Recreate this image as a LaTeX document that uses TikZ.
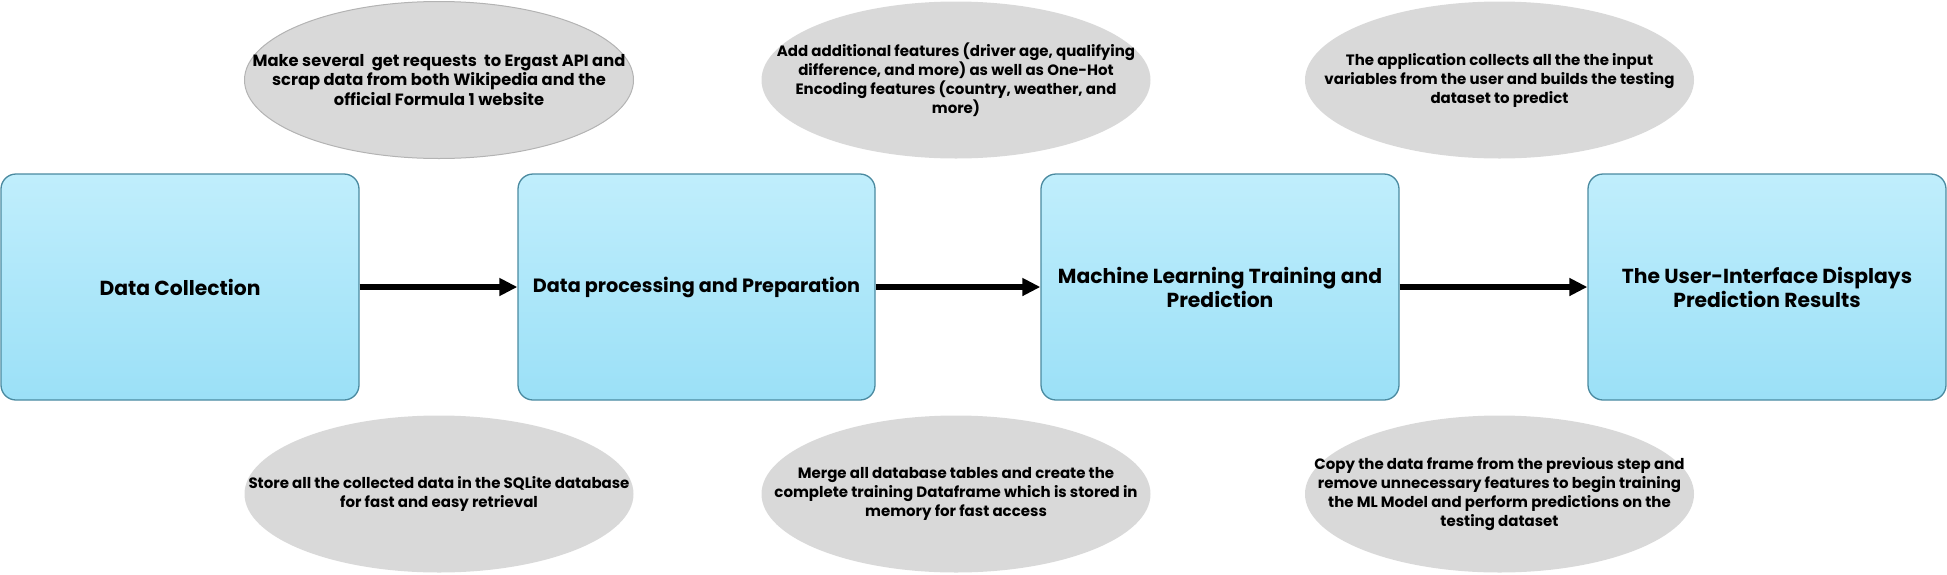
\documentclass[tikz,border=0pt]{standalone}
\usepackage{fontspec}
\setmainfont{Poppins}
\usetikzlibrary{shapes.geometric,arrows.meta}
\definecolor{boxtop}{HTML}{C0EEFC}
\definecolor{boxbot}{HTML}{9BE0F7}
\definecolor{boxline}{HTML}{4A8AA0}
\definecolor{ellfill}{HTML}{D9D9D9}
\definecolor{ellline}{HTML}{B3B3B3}
\tikzset{
  stepbox/.style={rectangle, rounded corners=15pt, draw=boxline, line width=1.3pt,
    top color=boxtop, bottom color=boxbot, minimum height=226pt, inner sep=6pt,
    align=center, font=\fontsize{20.3}{24}\selectfont\bfseries, text=black},
  note/.style={ellipse, fill=ellfill, minimum width=389pt, minimum height=157pt, inner sep=0pt},
  notetext/.style={align=center, inner sep=0pt, font=\fontsize{15}{19}\selectfont\bfseries, text=black},
  flow/.style={line width=6pt, -{Triangle[length=18pt,width=17pt]}}
}
\begin{document}
\begin{tikzpicture}[x=1pt,y=-1pt]
\useasboundingbox (0,0) rectangle (1947,574);
\node[stepbox, minimum width=358pt] (b1) at (180,287) {Data Collection};
\node[stepbox, minimum width=357pt, font=\fontsize{19.2}{24}\selectfont\bfseries] (b2) at (696.5,287) {Data processing and Preparation};
\node[stepbox, minimum width=358pt] (b3) at (1220,287) {Machine Learning Training and\\Prediction};
\node[stepbox, minimum width=358pt] (b4) at (1767,287) {The User-Interface Displays\\Prediction Results};
\node[note, draw=ellline, line width=1pt] (t1) at (439,80) {};
\node[note] (u1) at (439,494) {};
\node[note] (t2) at (956,80) {};
\node[note] (u2) at (956,494) {};
\node[note] (t3) at (1499.5,80) {};
\node[note] (u3) at (1499.5,494) {};
\node[notetext, font=\fontsize{16.3}{19.5}\selectfont\bfseries] (t1x) at (t1) {Make several\hspace{0.45em}get requests\hspace{0.45em}to Ergast API and\\scrap data from both Wikipedia and the\\official Formula 1 website};
\node[notetext] (u1x) at (u1) {Store all the collected data in the SQLite database\\for fast and easy retrieval};
\node[notetext] (t2x) at (t2) {Add additional features (driver age, qualifying\\difference, and more) as well as One-Hot\\Encoding features (country, weather, and\\more)};
\node[notetext] (u2x) at (u2) {Merge all database tables and create the\\complete training Dataframe which is stored in\\memory for fast access};
\node[notetext] (t3x) at (t3) {The application collects all the the input\\variables from the user and builds the testing\\dataset to predict};
\node[notetext] (u3x) at (u3) {Copy the data frame from the previous step and\\remove unnecessary features to begin training\\the ML Model and perform predictions on the\\testing dataset};
\draw[flow] (b1) -- (b2);
\draw[flow] (b2) -- (b3);
\draw[flow] (b3) -- (b4);
\end{tikzpicture}
\end{document}
